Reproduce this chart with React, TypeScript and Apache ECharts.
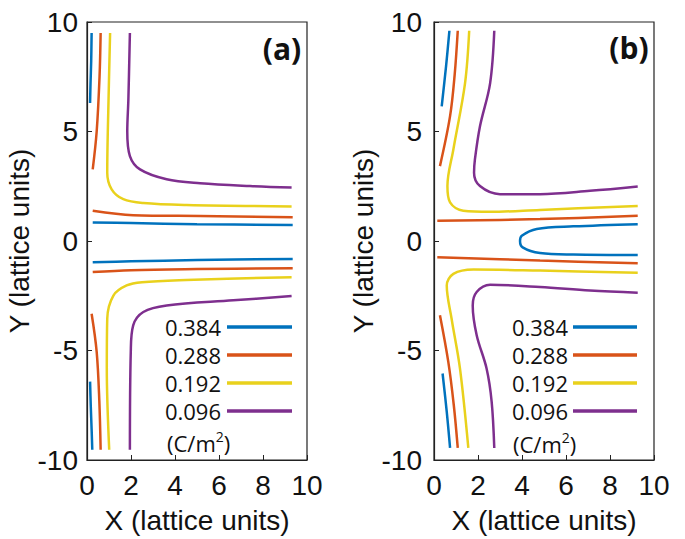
import React, { useEffect, useRef } from "react";
import * as echarts from "echarts";

// Contour levels (C/m^2) and colours
const levels = ["0.384", "0.288", "0.192", "0.096"];
const levelColors = ["#0072BD", "#D95319", "#E9D11C", "#7E2F8E"];
const xTicks = [0, 2, 4, 6, 8, 10];
const yTicks = [-10, -5, 0, 5, 10];

// Panel (a) contour segments [x, y]
const a384Top = [[0.21, 9.5], [0.19, 8.2], [0.16, 7.2], [0.14, 6.3]];
const a384MidUp = [[0.26, 0.85], [2, 0.82], [5, 0.77], [9.35, 0.73]];
const a384MidDown = [[0.26, -0.97], [2, -0.93], [5, -0.87], [9.35, -0.82]];
const a384Bot = [[0.14, -6.42], [0.17, -7.5], [0.21, -8.6], [0.24, -9.53]];
const a288Top = [[0.62, 9.5], [0.57, 7.5], [0.44, 5.0], [0.26, 3.27]];
const a288MidUp = [[0.26, 1.38], [2.1, 1.18], [5.14, 1.14], [9.35, 1.09]];
const a288MidDown = [[0.26, -1.42], [2.0, -1.33], [5.0, -1.28], [9.35, -1.24]];
const a288Bot = [[0.21, -3.32], [0.44, -5.06], [0.56, -7.3], [0.62, -9.53]];
const a192Up = [[1.05, 9.5], [0.98, 6.5], [0.92, 3.12], [1.12, 2.36], [1.65, 1.91], [2.56, 1.73], [4.53, 1.64], [9.3, 1.58]];
const a192Down = [[9.3, -1.65], [4.5, -1.78], [2.5, -1.88], [1.8, -2.03], [1.2, -2.49], [0.92, -3.55], [0.9, -5.8], [1.01, -9.53]];
const a096Up = [[1.95, 9.5], [1.88, 6.45], [1.83, 5.0], [1.95, 3.88], [2.41, 3.27], [3.62, 2.82], [5.14, 2.64], [7.41, 2.51], [9.3, 2.44]];
const a096Down = [[9.3, -2.51], [6.65, -2.71], [3.62, -2.94], [2.56, -3.24], [2.1, -3.85], [1.99, -5.06], [1.95, -9.53]];

// Panel (b) contour segments [x, y]
const b384Top = [[0.7, 9.6], [0.55, 8.0], [0.35, 6.15]];
const b384Loop = [[9.26, 0.77], [6.33, 0.67], [4.67, 0.55], [3.99, 0.24], [3.91, 0.0], [4.03, -0.29], [4.82, -0.55], [6.33, -0.62], [9.26, -0.64]];
const b384Bot = [[0.39, -6.05], [0.58, -7.8], [0.73, -9.45]];
const b288Top = [[1.08, 9.6], [0.94, 7.6], [0.73, 5.7], [0.27, 3.42]];
const b288MidUp = [[0.15, 0.92], [4.82, 1.0], [9.26, 1.15]];
const b288MidDown = [[0.15, -0.74], [4.82, -0.89], [9.26, -1.02]];
const b288Bot = [[0.27, -3.39], [0.65, -5.52], [0.9, -7.5], [1.08, -9.45]];
const b192Up = [[1.6, 9.6], [1.41, 7.2], [0.88, 4.18], [0.61, 2.51], [0.73, 1.76], [1.33, 1.38], [2.55, 1.33], [4.82, 1.42], [9.26, 1.6]];
const b192Down = [[9.26, -1.45], [4.82, -1.35], [1.79, -1.3], [0.88, -1.5], [0.58, -2.03], [0.8, -3.55], [1.18, -5.82], [1.56, -9.45]];
const b096Up = [[2.74, 9.6], [2.55, 7.2], [2.09, 5.24], [1.86, 3.73], [1.82, 3.12], [2.09, 2.51], [3.0, 2.14], [4.82, 2.14], [7.09, 2.29], [9.26, 2.49]];
const b096Down = [[9.26, -2.36], [7.09, -2.26], [4.82, -2.1], [2.55, -2.0], [1.94, -2.33], [1.76, -2.94], [1.94, -4.3], [2.39, -5.82], [2.62, -7.33], [2.74, -9.45]];

const panelA: [number, number[][]][] = [
  [0, a384Top], [0, a384MidUp], [0, a384MidDown], [0, a384Bot],
  [1, a288Top], [1, a288MidUp], [1, a288MidDown], [1, a288Bot],
  [2, a192Up], [2, a192Down],
  [3, a096Up], [3, a096Down],
];
const panelB: [number, number[][]][] = [
  [0, b384Top], [0, b384Loop], [0, b384Bot],
  [1, b288Top], [1, b288MidUp], [1, b288MidDown], [1, b288Bot],
  [2, b192Up], [2, b192Down],
  [3, b096Up], [3, b096Down],
];

const AXIS_FONT = "Liberation Sans";
const LEG_FONT = "Open Sans";

function legendGraphics(textRight: number, lineX1: number, lineX2: number, rowY: number[], unitX: number, unitY: number) {
  const els: any[] = [];
  levels.forEach((lv, i) => {
    els.push({
      type: "text",
      x: textRight,
      y: rowY[i],
      style: { text: lv, font: `22px "${LEG_FONT}"`, fill: "#111", align: "right", verticalAlign: "middle" },
    });
    els.push({
      type: "line",
      shape: { x1: lineX1, y1: rowY[i], x2: lineX2, y2: rowY[i] },
      style: { stroke: levelColors[i], lineWidth: 3.5 },
    });
  });
  els.push({
    type: "text",
    x: unitX,
    y: unitY,
    style: {
      text: "(C/m{sup|2})",
      font: `22px "${LEG_FONT}"`,
      fill: "#111",
      align: "left",
      verticalAlign: "middle",
      rich: { sup: { fontSize: 14, fontFamily: LEG_FONT, fill: "#111", verticalAlign: "top", padding: [0, 0, 14, 0] } },
    },
  });
  return els;
}

export default function App() {
  const ref = useRef<HTMLDivElement>(null);
  useEffect(() => {
    if (!ref.current) return;
    const chart = echarts.init(ref.current, null, { renderer: "svg" });
    const mkX = (gi: number) => ({
      type: "value",
      gridIndex: gi,
      min: 0,
      max: 10,
      interval: 2,
      name: "X (lattice units)",
      nameLocation: "middle",
      nameGap: 46,
      nameTextStyle: { fontFamily: AXIS_FONT, fontSize: 28, color: "#111" },
      axisLine: { show: true, onZero: false, lineStyle: { color: "#222", width: 1.2 } },
      axisTick: { show: true, inside: true, length: 5, lineStyle: { color: "#222" } },
      axisLabel: { fontFamily: AXIS_FONT, fontSize: 28, color: "#111", margin: 11, customValues: xTicks },
      splitLine: { show: false },
    });
    const mkY = (gi: number, margin: number, gap: number) => ({
      type: "value",
      gridIndex: gi,
      min: -10,
      max: 10,
      interval: 5,
      name: "Y (lattice units)",
      nameLocation: "middle",
      nameGap: gap,
      nameTextStyle: { fontFamily: AXIS_FONT, fontSize: 28, color: "#111" },
      axisLine: { show: true, onZero: false, lineStyle: { color: "#222", width: 1.2 } },
      axisTick: { show: true, inside: true, length: 5, lineStyle: { color: "#222" } },
      axisLabel: { fontFamily: AXIS_FONT, fontSize: 28, color: "#111", margin, customValues: yTicks },
      splitLine: { show: false },
    });
    const mkSeries = (segs: [number, number[][]][], gi: number) =>
      segs.map(([lv, data]) => ({
        type: "line",
        name: levels[lv],
        xAxisIndex: gi,
        yAxisIndex: gi,
        data,
        smooth: 0.35,
        showSymbol: false,
        symbol: "none",
        lineStyle: { color: levelColors[lv], width: 2.5 },
        itemStyle: { color: levelColors[lv] },
        silent: true,
      }));
    chart.setOption({
      animation: false,
      backgroundColor: "#fff",
      grid: [
        { left: 87, top: 22, width: 220, height: 441, show: true, borderColor: "#222", borderWidth: 1.2, backgroundColor: "transparent" },
        { left: 434, top: 22, width: 220, height: 441, show: true, borderColor: "#222", borderWidth: 1.2, backgroundColor: "transparent" },
      ],
      xAxis: [mkX(0), mkX(1)],
      yAxis: [mkY(0, 9, 45), mkY(1, 12, 48)],
      series: [...mkSeries(panelA, 0), ...mkSeries(panelB, 1)],
      graphic: [
        {
          type: "text",
          x: 282,
          y: 48,
          style: { text: "(a)", font: `bold 30px "${LEG_FONT}"`, fill: "#111", align: "center", verticalAlign: "middle" },
        },
        {
          type: "text",
          x: 629,
          y: 47,
          style: { text: "(b)", font: `bold 30px "${LEG_FONT}"`, fill: "#111", align: "center", verticalAlign: "middle" },
        },
        ...legendGraphics(221, 227, 292, [327, 355, 383, 411], 167, 443),
        ...legendGraphics(568, 573, 637, [327, 355, 383, 411], 513, 444),
      ],
    });
    return () => chart.dispose();
  }, []);
  return <div ref={ref} style={{ width: 685, height: 539, position: "absolute", left: 0, top: 0 }} />;
}
